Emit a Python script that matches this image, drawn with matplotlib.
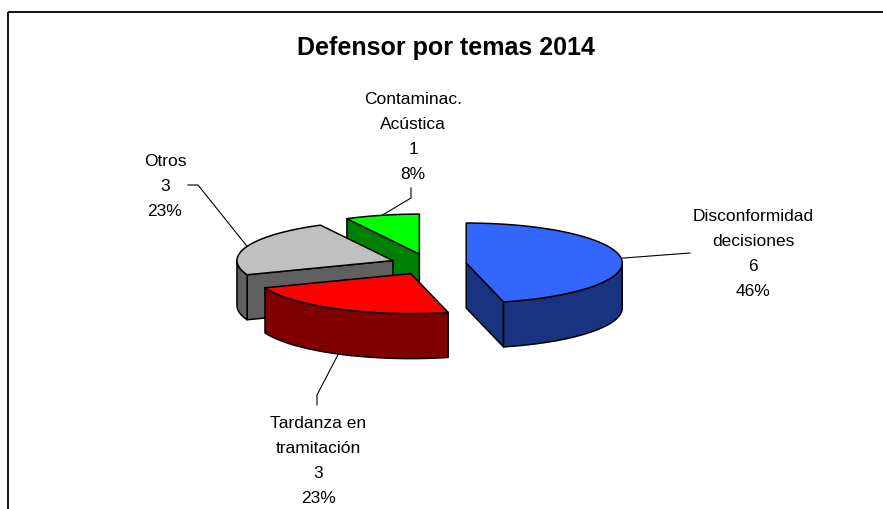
import numpy as np
import matplotlib
matplotlib.use('Agg')
import matplotlib.pyplot as plt
from matplotlib.patches import Polygon

# --- Data ---
categories = ["Disconformidad\ndecisiones", "Tardanza en\ntramitación", "Otros", "Contaminac.\nAcústica"]
values = [6, 3, 3, 1]
title = "Defensor por temas 2014"

# --- Styling / layout (pixel coords, y down) ---
top_colors = ["#3366FF", "#FF0000", "#C0C0C0", "#00FF00"]
side_colors = ["#1A3380", "#800000", "#606060", "#008000"]
label_xy = [(753, 209), (318, 416), (165, 154), (413, 92)]       # top of each label block
leader_elbow = [[(690, 253)], [(317, 395), (317, 405)],
                [(198, 185), (188, 185)], [(411, 198), (411, 188)]]
leader_on_bottom = [False, True, False, False]

CX, CY = 428.5, 264.3   # pie centre
R, r = 156, 40          # ellipse semi-axes of the top face
DEPTH = 45              # thickness
EX, EY = 38, 10.5       # explode offsets

plt.rcParams['font.family'] = ['Liberation Sans', 'DejaVu Sans']

W, H = 883, 509
fig = plt.figure(figsize=(W / 100, H / 100), dpi=100)
ax = fig.add_axes([0, 0, 1, 1])
ax.set_xlim(0, W)
ax.set_ylim(H, 0)
ax.axis('off')

# chart frame (only top and left edges fall inside the crop)
ax.plot([8, W + 5], [12, 12], color='black', lw=1.3, solid_capstyle='butt')
ax.plot([8, 8], [12, H + 5], color='black', lw=1.3, solid_capstyle='butt')

ax.text(446, 48, title, ha='center', va='center', fontsize=18, fontweight='bold')

total = sum(values)
fracs = np.array(values) / total
ends = np.cumsum(fracs) * 2 * np.pi
starts = ends - fracs * 2 * np.pi


def ell(ox, oy, th, dz=0.0):
    return ox + R * np.sin(th), oy - r * np.cos(th) + dz


def poly(pts, fc):
    ax.add_patch(Polygon(pts, closed=True, facecolor=fc, edgecolor='black',
                         lw=1.1, joinstyle='round'))


apexes = []
for a0, a1 in zip(starts, ends):
    mid = (a0 + a1) / 2
    apexes.append((CX + EX * np.sin(mid), CY - EY * np.cos(mid)))

# back slices first
for i in [3, 2, 1, 0]:
    a0, a1 = starts[i], ends[i]
    ox, oy = apexes[i]
    # radial walls
    for ang, vis in [(a0, np.sin(a0) < -1e-6), (a1, np.sin(a1) > 1e-6)]:
        if vis:
            p = ell(ox, oy, ang)
            poly([(ox, oy), p, (p[0], p[1] + DEPTH), (ox, oy + DEPTH)], side_colors[i])
    # outer front wall
    lo, hi = max(a0, np.pi / 2), min(a1, 3 * np.pi / 2)
    if hi > lo:
        t = np.linspace(lo, hi, 80)
        topc = [ell(ox, oy, v) for v in t]
        botc = [ell(ox, oy, v, DEPTH) for v in t[::-1]]
        poly(topc + botc, side_colors[i])
    # top face
    t = np.linspace(a0, a1, 120)
    poly([(ox, oy)] + [ell(ox, oy, v) for v in t], top_colors[i])

# labels and leader lines
for i, name in enumerate(categories):
    mid = (starts[i] + ends[i]) / 2
    ox, oy = apexes[i]
    p = ell(ox, oy, mid, DEPTH if leader_on_bottom[i] else 0)
    pts = [p] + leader_elbow[i]
    ax.plot([q[0] for q in pts], [q[1] for q in pts], color='black', lw=0.8)
    txt = f"{name}\n{values[i]}\n{values[i] / total:.0%}"
    ax.text(label_xy[i][0], label_xy[i][1], txt, ha='center', va='top',
            fontsize=12.5, linespacing=1.82, color='black')

fig.savefig('out.png', dpi=100)
